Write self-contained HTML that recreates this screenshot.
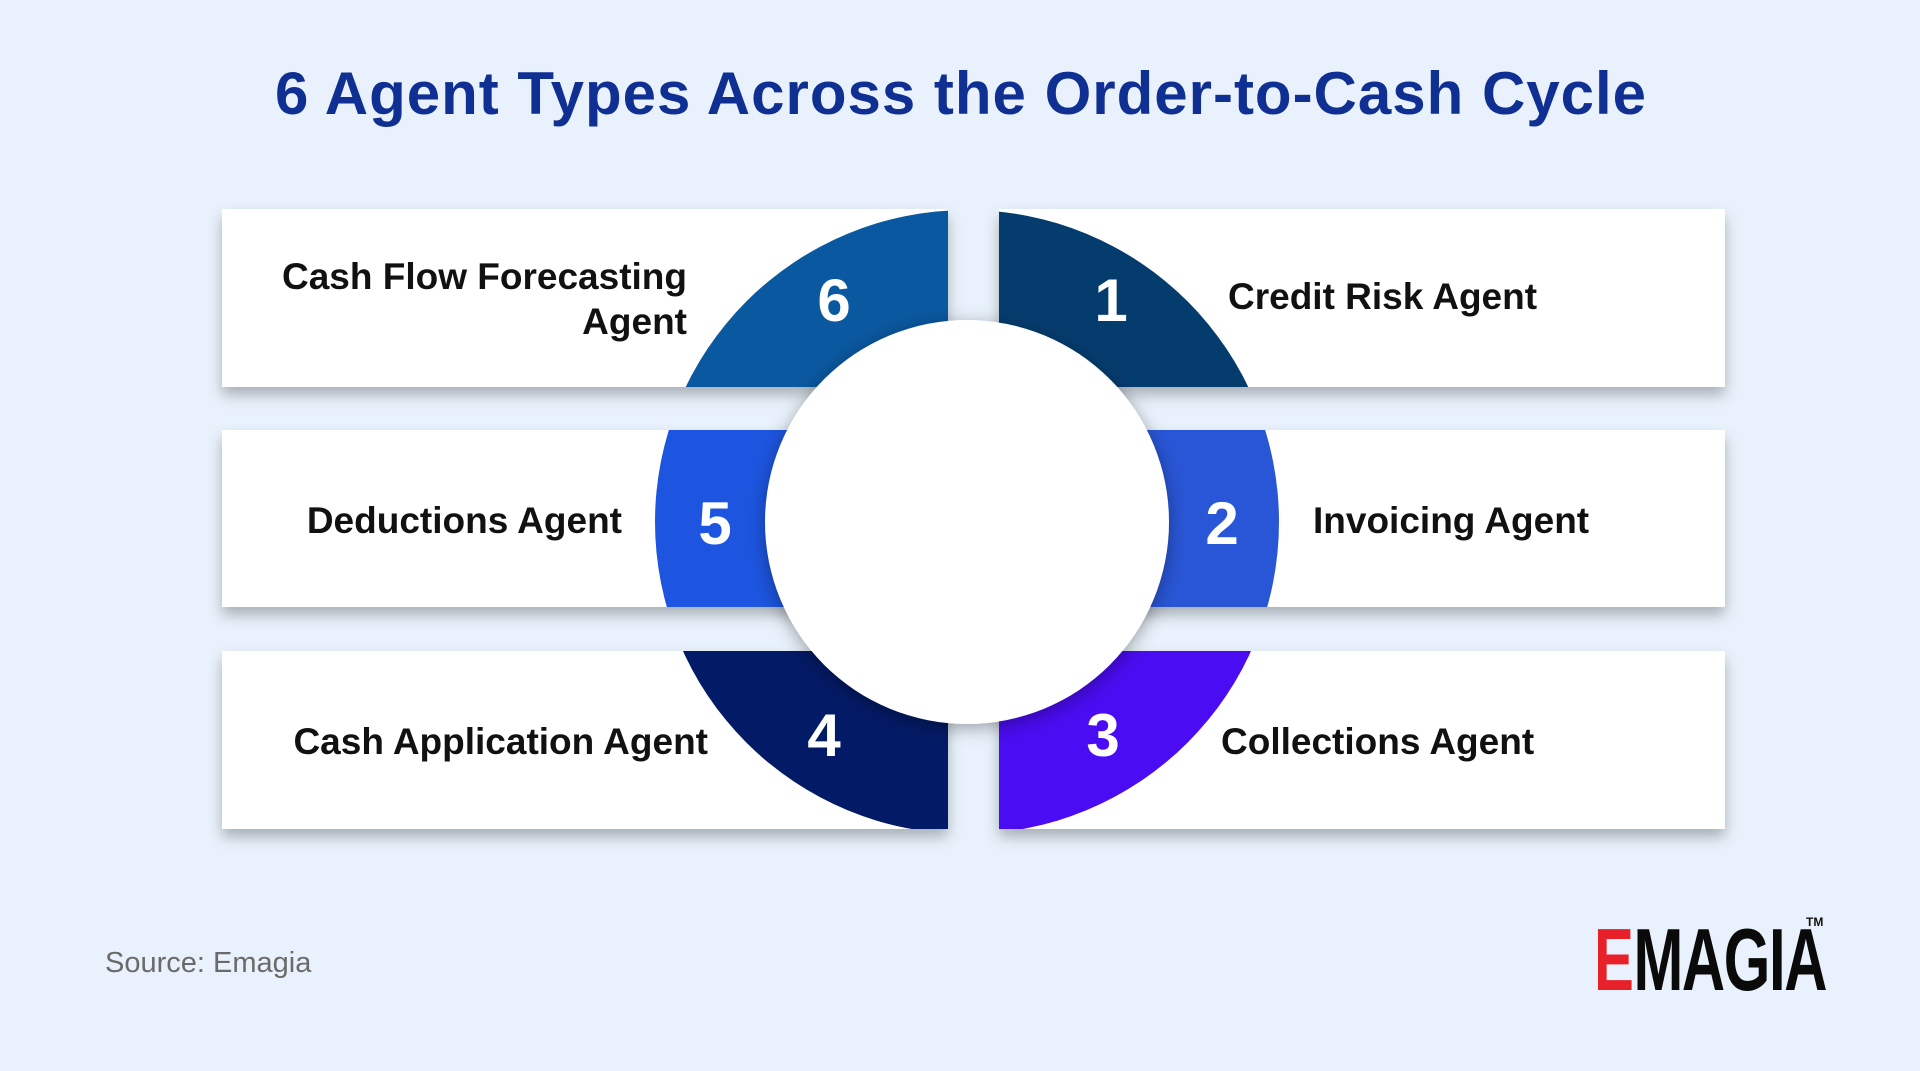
<!DOCTYPE html>
<html><head><meta charset="utf-8"><style>
body{margin:0;width:1920px;height:1066px;overflow:hidden;background:#e9f2fc;font-family:"Liberation Sans",sans-serif}
</style></head><body>
<svg width="1920" height="1066" viewBox="0 0 1920 1066" xmlns="http://www.w3.org/2000/svg">
<defs>
<filter id="sh" x="-10%" y="-20%" width="120%" height="150%"><feDropShadow dx="0" dy="8" stdDeviation="7" flood-color="#000" flood-opacity="0.28"/></filter>
<filter id="cs" x="-20%" y="-20%" width="140%" height="140%"><feDropShadow dx="0" dy="4" stdDeviation="9" flood-color="#000" flood-opacity="0.35"/></filter>
<mask id="ring"><rect width="1920" height="1066" fill="#000"/><circle cx="967" cy="522" r="312" fill="#fff"/></mask>
</defs>
<rect width="1920" height="1066" fill="#e9f2fc"/>
<text x="961" y="114" text-anchor="middle" font-size="60" font-weight="bold" fill="#0f2f93" letter-spacing="1">6 Agent Types Across the Order-to-Cash Cycle</text>
<g filter="url(#sh)">
<rect x="222" y="209" width="726" height="178" fill="#fff"/>
<rect x="999" y="209" width="726" height="178" fill="#fff"/>
<rect x="222" y="430" width="726" height="177" fill="#fff"/>
<rect x="999" y="430" width="726" height="177" fill="#fff"/>
<rect x="222" y="651" width="726" height="178" fill="#fff"/>
<rect x="999" y="651" width="726" height="178" fill="#fff"/>
</g>
<g mask="url(#ring)">
<rect x="222" y="209" width="726" height="178" fill="#0a58a0"/>
<rect x="999" y="209" width="726" height="178" fill="#053c6e"/>
<rect x="222" y="430" width="726" height="177" fill="#1d55e0"/>
<rect x="999" y="430" width="726" height="177" fill="#2956d6"/>
<rect x="222" y="651" width="726" height="178" fill="#031a66"/>
<rect x="999" y="651" width="726" height="178" fill="#4a0cf2"/>
</g>
<circle cx="967" cy="522" r="202" fill="#fff" filter="url(#cs)"/>
<g font-size="60" font-weight="bold" fill="#fff" text-anchor="middle">
<text x="834" y="321">6</text><text x="1111" y="321">1</text>
<text x="715" y="544">5</text><text x="1222" y="544">2</text>
<text x="824" y="756">4</text><text x="1103" y="756">3</text>
</g>
<g font-size="37" font-weight="bold" fill="#111">
<text x="687" y="289" text-anchor="end">Cash Flow Forecasting</text>
<text x="687" y="334" text-anchor="end">Agent</text>
<text x="622" y="533" text-anchor="end">Deductions Agent</text>
<text x="708" y="754" text-anchor="end">Cash Application Agent</text>
<text x="1228" y="309">Credit Risk Agent</text>
<text x="1313" y="533">Invoicing Agent</text>
<text x="1221" y="754">Collections Agent</text>
</g>
<text x="105" y="972" font-size="29" fill="#6a6a6a">Source: Emagia</text>
<g font-weight="bold" font-size="88" transform="translate(1594,990) scale(0.68,1)">
<text x="0" y="0" fill="#e8202a">E</text>
<text x="58" y="0" fill="#0a0a0a" letter-spacing="-2">MAGIA</text>
</g>
<text x="1806" y="926" font-size="12" font-weight="bold" fill="#111">TM</text>
</svg>
</body></html>
